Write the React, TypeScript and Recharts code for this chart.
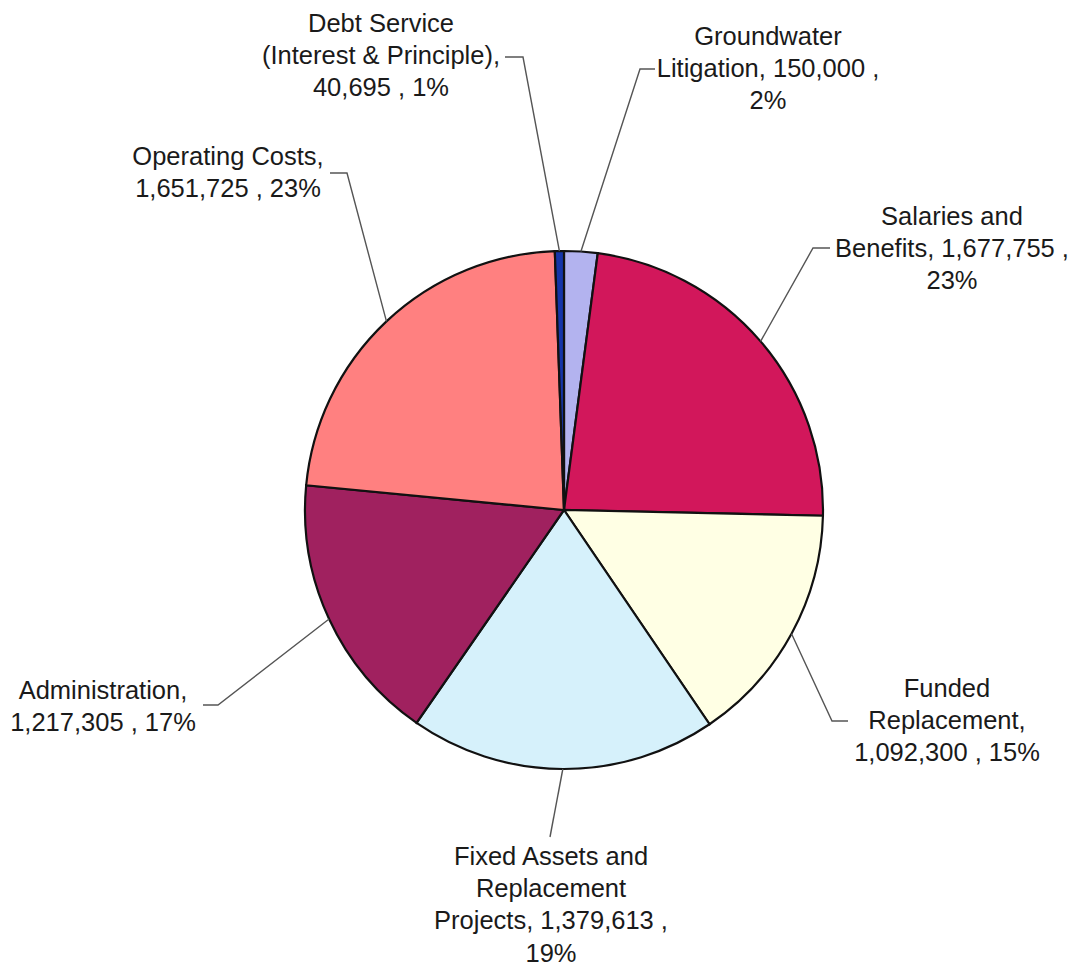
import { Cell, Pie, PieChart } from "recharts";

const categories = [
  "Groundwater Litigation",
  "Salaries and Benefits",
  "Funded Replacement",
  "Fixed Assets and Replacement Projects",
  "Administration",
  "Operating Costs",
  "Debt Service (Interest & Principle)",
];

const amounts = [150000, 1677755, 1092300, 1379613, 1217305, 1651725, 40695];

const colors = ["#b3b3ef", "#d2175b", "#ffffe4", "#d6f1fb", "#a0215f", "#ff8080", "#1535a8"];

// words per wrapped line, like the Excel label boxes
const wordsPerLine = [
  [1, 3, 1],
  [2, 3, 1],
  [1, 1, 3],
  [3, 1, 3, 1],
  [1, 3],
  [2, 3],
  [2, 3, 3],
];

// label text centre / first baseline and leader elbow, relative to pie centre
const labelLayout = [
  { tx: 204, ty: -465, sx: 91, ex: 76, ly: -441 },
  { tx: 388, ty: -285, sx: 266, ex: 249, ly: -262 },
  { tx: 383, ty: 187, sx: 284, ex: 268, ly: 211 },
  { tx: -13, ty: 355, sx: -14, ex: -14, ly: 327 },
  { tx: -461, ty: 189, sx: -361, ex: -346, ly: 195 },
  { tx: -336, ty: -345, sx: -234, ex: -217, ly: -337 },
  { tx: -183, ty: -478, sx: -59, ex: -41, ly: -453 },
];

const total = amounts.reduce((a, b) => a + b, 0);
const data = categories.map((name, i) => ({ name, value: amounts[i] }));

const RAD = Math.PI / 180;
const LINE_H = 32.2;

function renderLabel(props: any) {
  const { cx, cy, midAngle, outerRadius, index } = props;
  const lay = labelLayout[index];
  const px = cx + outerRadius * Math.cos(-midAngle * RAD);
  const py = cy + outerRadius * Math.sin(-midAngle * RAD);
  const pct = Math.round((amounts[index] / total) * 100);
  const words = `${categories[index]}, ${amounts[index].toLocaleString("en-US")} , ${pct}%`.split(" ");
  const lines: string[] = [];
  let k = 0;
  for (const n of wordsPerLine[index]) {
    lines.push(words.slice(k, k + n).join(" "));
    k += n;
  }
  return (
    <g key={`lbl-${index}`}>
      <polyline
        points={`${cx + lay.sx},${cy + lay.ly} ${cx + lay.ex},${cy + lay.ly} ${px},${py}`}
        fill="none"
        stroke="#555"
        strokeWidth={1.4}
      />
      <text textAnchor="middle" fontFamily="'Liberation Sans', Arial, sans-serif" fontSize={25.5} fill="#1a1a1a">
        {lines.map((l, j) => (
          <tspan key={j} x={cx + lay.tx} y={cy + lay.ty + j * LINE_H}>
            {l}
          </tspan>
        ))}
      </text>
    </g>
  );
}

export default function App() {
  return (
    <div style={{ position: "absolute", left: 0, top: 0, width: 1076, height: 968, background: "#fff" }}>
      <PieChart width={1076} height={968} margin={{ top: 0, right: 0, bottom: 0, left: 0 }}>
        <Pie
          data={data}
          dataKey="value"
          nameKey="name"
          cx={564}
          cy={510}
          outerRadius={259}
          startAngle={90}
          endAngle={-270}
          stroke="#111"
          strokeWidth={2.2}
          label={renderLabel}
          labelLine={false}
          isAnimationActive={false}
        >
          {data.map((d, i) => (
            <Cell key={d.name} fill={colors[i]} />
          ))}
        </Pie>
      </PieChart>
    </div>
  );
}
